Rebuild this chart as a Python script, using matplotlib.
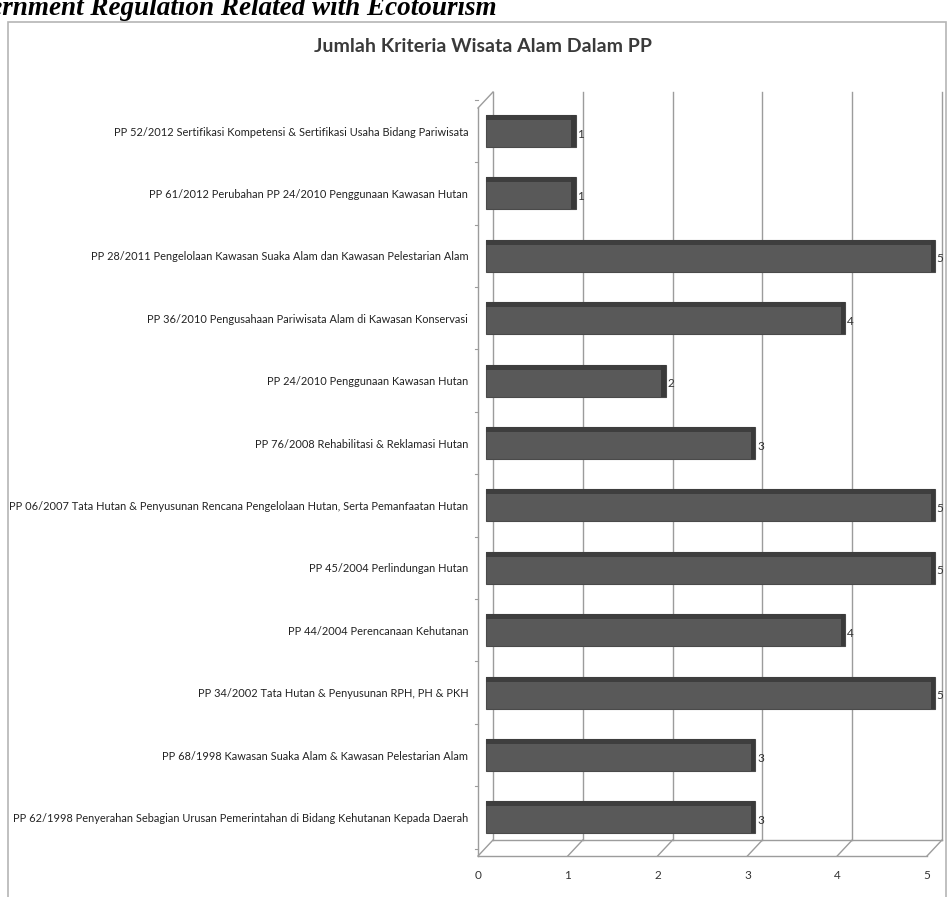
import numpy as np
import matplotlib.pyplot as plt
from matplotlib.patches import Rectangle

# data
labels = [
    "PP 52/2012 Sertifikasi Kompetensi & Sertifikasi Usaha Bidang Pariwisata",
    "PP 61/2012 Perubahan PP 24/2010 Penggunaan Kawasan Hutan",
    "PP 28/2011 Pengelolaan Kawasan Suaka Alam dan Kawasan Pelestarian Alam",
    "PP 36/2010 Pengusahaan Pariwisata Alam di Kawasan Konservasi",
    "PP 24/2010 Penggunaan Kawasan Hutan",
    "PP 76/2008 Rehabilitasi & Reklamasi Hutan",
    "PP 06/2007 Tata Hutan & Penyusunan Rencana Pengelolaan Hutan, Serta Pemanfaatan Hutan",
    "PP 45/2004 Perlindungan Hutan",
    "PP 44/2004 Perencanaan Kehutanan",
    "PP 34/2002 Tata Hutan & Penyusunan RPH, PH & PKH",
    "PP 68/1998 Kawasan Suaka Alam & Kawasan Pelestarian Alam",
    "PP 62/1998 Penyerahan Sebagian Urusan Pemerintahan di Bidang Kehutanan Kepada Daerah",
]
values = [1, 1, 5, 4, 2, 3, 5, 5, 4, 5, 3, 3]
xticks = [0, 1, 2, 3, 4, 5]

title = "Jumlah Kriteria Wisata Alam Dalam PP"
header = "Government Regulation Related with Ecotourism"

font = ['Lato', 'DejaVu Sans']
grid_c = '#9c9c9c'

W, H = 947, 897
fig = plt.figure(figsize=(W / 100, H / 100), dpi=100)
fig.patch.set_facecolor('white')

# axes placed so the front floor runs 478..927 px and y 108..856 px
ax = fig.add_axes([478 / W, (H - 856) / H, 449 / W, (856 - 108) / H])
ypos = np.arange(len(labels))
top = (108 - 131) / 62.4
bottom = (856 - 131) / 62.4
ax.set_xlim(0, 5)
ax.set_ylim(bottom, top)
for s in ax.spines.values():
    s.set_visible(False)

# 3d depth offset in data units (15 px right, 16 px up)
dx = 5 / 449 * 15
dy = (bottom - top) / 748 * 16

# back wall gridlines + floor
for k in xticks:
    ax.plot([k + dx, k + dx], [top - dy, bottom - dy], color=grid_c, lw=1, clip_on=False, zorder=1)
    ax.plot([k, k + dx], [bottom, bottom - dy], color=grid_c, lw=1, clip_on=False, zorder=1)
ax.plot([0, 5], [bottom, bottom], color=grid_c, lw=1, clip_on=False, zorder=1)
ax.plot([dx, 5 + dx], [bottom - dy, bottom - dy], color=grid_c, lw=1, clip_on=False, zorder=1)
# left wall
ax.plot([0, 0], [top, bottom], color=grid_c, lw=1, clip_on=False, zorder=1)
ax.plot([0, dx], [top, top - dy], color=grid_c, lw=1, clip_on=False, zorder=1)
for yb in np.arange(-0.5, len(labels), 1.0):
    ax.plot([-0.03, 0], [yb, yb], color=grid_c, lw=0.8, clip_on=False, zorder=1)

# bars (drawn at half depth)
bl = 0.09
ax.barh(ypos, values, height=0.51, left=bl, color='#595959', edgecolor='#4a4a4a',
        lw=0.8, zorder=3, clip_on=False)
ax.barh(ypos - 0.215, values, height=0.08, left=bl, color='#3e3e3e', lw=0, zorder=4,
        clip_on=False)
ax.barh(ypos, [0.05] * len(values), height=0.51, left=np.array(values) - 0.05 + bl,
        color='#3a3a3a', lw=0, zorder=4, clip_on=False)

for yi, v in zip(ypos, values):
    ax.annotate(str(v), xy=(v + bl, yi), xytext=(5, -3), textcoords='offset pixels',
                ha='center', va='center', fontsize=8.5, family=font, color='#333333',
                annotation_clip=False)

ax.set_yticks(ypos)
ax.set_yticklabels(labels, fontsize=7.9, family=font, color='#222222')
ax.set_xticks(xticks)
ax.set_xticklabels([str(t) for t in xticks], fontsize=8.5, family=font, color='#333333')
ax.tick_params(length=0)
ax.tick_params(axis='y', pad=7)
ax.tick_params(axis='x', pad=10)

# chart frame
fig.patches.append(Rectangle((8 / W, -0.05), (946 - 8) / W, (H - 22) / H + 0.05,
                             transform=fig.transFigure, fill=False,
                             edgecolor='#b5b5b5', lw=1.2))

fig.text(483 / W, 1 - 47 / H, title, ha='center', va='center', fontsize=14,
         weight='bold', family=font, color='#3a3a3a')
fig.text(497 / W, 1 - 15 / H, header, ha='right', va='baseline', fontsize=19.5,
         weight='bold', style='italic', family='Liberation Serif', color='black')

fig.savefig('out.png', dpi=100)
